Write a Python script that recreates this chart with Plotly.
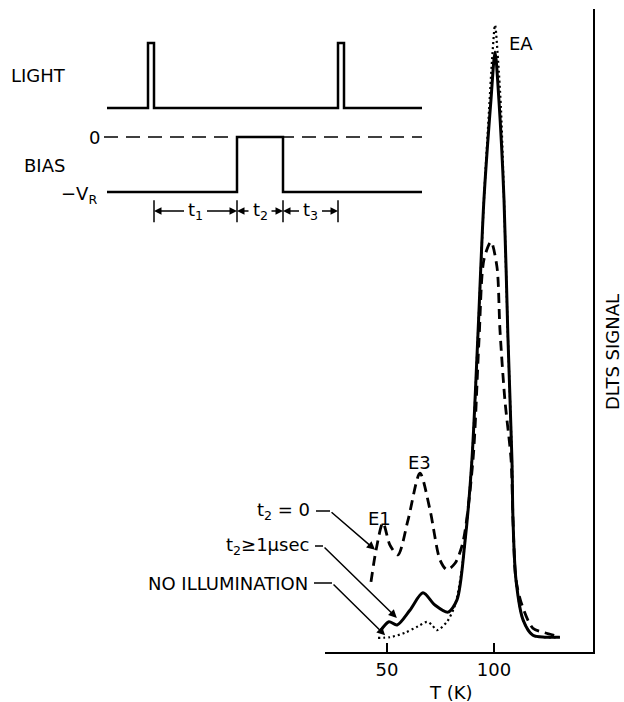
import plotly.graph_objects as go

# ---- DLTS spectra (signal in arbitrary units, 0-100) ----
T_SOLID = [47.2, 50.9, 54.7, 60.7, 66.8, 72.4, 78.5, 82.7, 86.4, 89.7, 92.5, 95.3,
           98.6, 100.5, 102.3, 104.7, 106.5, 108.4, 108.9, 110.3, 113.6, 118.2, 123.8, 130.8]
S_SOLID = [3.4, 4.7, 4.2, 6.5, 9.2, 7.3, 6.2, 8.1, 17.0, 29.9, 49.3, 70.3,
           85.9, 93.3, 85.9, 70.3, 49.3, 29.9, 20.5, 11.2, 5.0, 2.6, 2.3, 2.3]

T_DOTTED = [45.8, 51.4, 58.4, 64.5, 68.7, 71.0, 73.4, 78.0, 81.8, 84.6, 86.4, 89.7, 92.5,
            95.3, 97.7, 99.1, 100.5, 101.9, 103.3, 104.7, 106.5, 108.4, 108.9, 110.3,
            113.6, 118.2, 123.8, 130.8]
S_DOTTED = [2.2, 2.3, 3.0, 4.0, 4.7, 4.2, 3.4, 4.7, 7.3, 12.0, 17.0, 29.9, 49.3,
            70.3, 84.3, 92.1, 97.5, 92.1, 84.3, 70.3, 49.3, 29.9, 20.5, 11.2,
            5.0, 2.6, 2.3, 2.3]

T_DASHED = [42.5, 44.9, 48.1, 51.4, 55.1, 59.8, 65.4, 70.1, 74.8, 78.0, 81.8, 85.5, 90.2,
            93.0, 95.3, 98.6, 101.4, 102.8, 105.1, 108.0, 108.9, 110.3, 113.1, 118.2,
            123.8, 129.0]
S_DASHED = [10.9, 15.9, 20.1, 16.6, 15.1, 20.5, 27.8, 22.1, 14.3, 12.8, 13.8, 17.1, 29.9,
            48.5, 61.0, 63.8, 59.9, 50.1, 39.2, 29.9, 20.5, 11.2, 7.3, 3.7,
            3.0, 2.5]

T_TICKS = [50, 100]
T_TICK_TEXT = ["50", "100"]

# ---- pulse-sequence schematic (time in arbitrary units) ----
LIGHT_T = [0, 41, 41, 47, 47, 231, 231, 237, 237, 315]
LIGHT_LEVEL = [0, 0, 1, 1, 0, 0, 1, 1, 0, 0]
BIAS_T = [0, 130, 130, 176, 176, 315]
BIAS_LEVEL = [-1, -1, 0, 0, -1, -1]
ZERO_T = [-3, 315]
MARK_T = [47, 130, 176, 231]          # boundaries of t1, t2, t3
PERIOD_NAMES = ["t<sub>1</sub>", "t<sub>2</sub>", "t<sub>3</sub>"]

W, H = 624, 702
FONT = "DejaVu Sans"
INK = "black"
FS = 18


def px(x):
    return x / W


def py(y):
    return 1 - y / H


def label(x, y, text, xanchor="center", **kw):
    return dict(x=px(x), y=py(y), xref="paper", yref="paper", xanchor=xanchor,
                yanchor="middle", text=text, showarrow=False,
                font=dict(family=FONT, size=kw.pop("size", FS), color=INK), **kw)


fig = go.Figure()

# spectra
fig.add_trace(go.Scatter(x=T_DASHED, y=S_DASHED, mode="lines",
                         line=dict(color=INK, width=2.8, dash="10px,6px", shape="spline", smoothing=0.8),
                         xaxis="x", yaxis="y", showlegend=False, hoverinfo="skip"))
fig.add_trace(go.Scatter(x=T_DOTTED, y=S_DOTTED, mode="lines",
                         line=dict(color=INK, width=2.2, dash="2px,3px", shape="spline", smoothing=0.8),
                         xaxis="x", yaxis="y", showlegend=False, hoverinfo="skip"))
fig.add_trace(go.Scatter(x=T_SOLID, y=S_SOLID, mode="lines",
                         line=dict(color=INK, width=3, shape="spline", smoothing=0.8),
                         xaxis="x", yaxis="y", showlegend=False, hoverinfo="skip"))

# schematic waveforms
fig.add_trace(go.Scatter(x=LIGHT_T, y=LIGHT_LEVEL, mode="lines",
                         line=dict(color=INK, width=2.5), xaxis="x2", yaxis="y2",
                         showlegend=False, hoverinfo="skip"))
fig.add_trace(go.Scatter(x=ZERO_T, y=[0, 0], mode="lines",
                         line=dict(color=INK, width=1.5, dash="14px,8px"), xaxis="x2", yaxis="y3",
                         showlegend=False, hoverinfo="skip"))
fig.add_trace(go.Scatter(x=BIAS_T, y=BIAS_LEVEL, mode="lines",
                         line=dict(color=INK, width=2.5), xaxis="x2", yaxis="y3",
                         showlegend=False, hoverinfo="skip"))
for t in MARK_T:
    fig.add_trace(go.Scatter(x=[t, t], y=[-1.15, -1.55], mode="lines",
                             line=dict(color=INK, width=1.5), xaxis="x2", yaxis="y3",
                             showlegend=False, hoverinfo="skip"))

annotations = []
ARROW_Y = -1.345
for i, name in enumerate(PERIOD_NAMES):
    a, b = MARK_T[i], MARK_T[i + 1]
    mid = (a + b) / 2
    half = 10
    for head, tail in ((a, mid - half), (b, mid + half)):
        annotations.append(dict(x=head, y=ARROW_Y, ax=tail, ay=ARROW_Y, xref="x2", yref="y3",
                                axref="x2", ayref="y3", text="", showarrow=True,
                                arrowhead=2, arrowsize=1, arrowwidth=1.5, arrowcolor=INK,
                                standoff=0, startstandoff=0))
    annotations.append(dict(x=mid, y=ARROW_Y, xref="x2", yref="y3", text=name,
                            xanchor="center", yanchor="middle",
                            showarrow=False, font=dict(family=FONT, size=FS, color=INK)))

# schematic labels
annotations += [
    label(9, 76, "LIGHT", xanchor="left"),
    label(22, 165, "BIAS", xanchor="left"),
    label(102, 137, "0", xanchor="right"),
    label(99, 195, "\u2212V<sub>R</sub>", xanchor="right"),
]

# peak labels
annotations += [
    dict(x=106.0, y=94.7, xref="x", yref="y", xanchor="left", yanchor="middle", text="EA",
         showarrow=False, font=dict(family=FONT, size=FS, color=INK)),
    dict(x=65.4, y=29.5, xref="x", yref="y", xanchor="center", yanchor="middle", text="E3",
         showarrow=False, font=dict(family=FONT, size=FS, color=INK)),
    dict(x=46.7, y=20.7, xref="x", yref="y", xanchor="center", yanchor="middle", text="E1",
         showarrow=False, font=dict(family=FONT, size=FS, color=INK)),
]

# curve labels with leaders: (text, right edge, text y, leader end x, head T, head S)
LEADERS = [
    ("t<sub>2</sub> = 0", 312, 511, 330, 44.4, 15.9),
    ("t<sub>2</sub>\u22651\u03bcsec", 311, 546, 323, 54.6, 5.3),
    ("NO ILLUMINATION", 310, 583, 332, 49.1, 2.6),
]
shapes = []
for text, right, ty, bend, hx, hy in LEADERS:
    annotations.append(label(right, ty, text, xanchor="right"))
    shapes.append(dict(type="line", xref="paper", yref="paper", x0=px(right + 4), x1=px(bend),
                       y0=py(ty), y1=py(ty), line=dict(color=INK, width=1.5)))
    hx_px = 387 + (hx - 50) / 0.46729
    hy_px = 652 - hy * 6.43
    annotations.append(dict(x=hx, y=hy, xref="x", yref="y", ax=bend - hx_px, ay=ty - hy_px,
                            text="", showarrow=True, arrowhead=2, arrowsize=1.1,
                            arrowwidth=1.5, arrowcolor=INK, standoff=0))

# axis titles
annotations += [
    label(451, 692, "T (K)"),
    label(612, 352, "DLTS SIGNAL", textangle=-90),
]

fig.update_layout(
    width=W, height=H,
    margin=dict(l=0, r=0, t=0, b=0),
    paper_bgcolor="white", plot_bgcolor="rgba(0,0,0,0)",
    xaxis=dict(domain=[px(325), px(593)], range=[21.0, 146.3], anchor="y",
               showline=True, linecolor=INK, linewidth=2, showgrid=False, zeroline=False,
               tickmode="array", tickvals=T_TICKS, ticktext=T_TICK_TEXT,
               ticks="inside", ticklen=9, tickwidth=1.5, tickcolor=INK,
               tickfont=dict(family=FONT, size=FS, color=INK)),
    yaxis=dict(domain=[py(652), py(9)], range=[0, 100], anchor="x", side="right",
               showline=True, linecolor=INK, linewidth=2, showgrid=False, zeroline=False,
               showticklabels=False, ticks=""),
    xaxis2=dict(domain=[0, 1], range=[-107, 517], anchor="y2", visible=False),
    yaxis2=dict(domain=[py(114.5), py(36.5)], range=[-0.1, 1.1], anchor="x2", visible=False),
    yaxis3=dict(domain=[py(225), py(131.5)], range=[-1.6, 0.1], anchor="x2", visible=False),
    annotations=annotations,
    shapes=shapes,
)

fig.write_html("out.html")
